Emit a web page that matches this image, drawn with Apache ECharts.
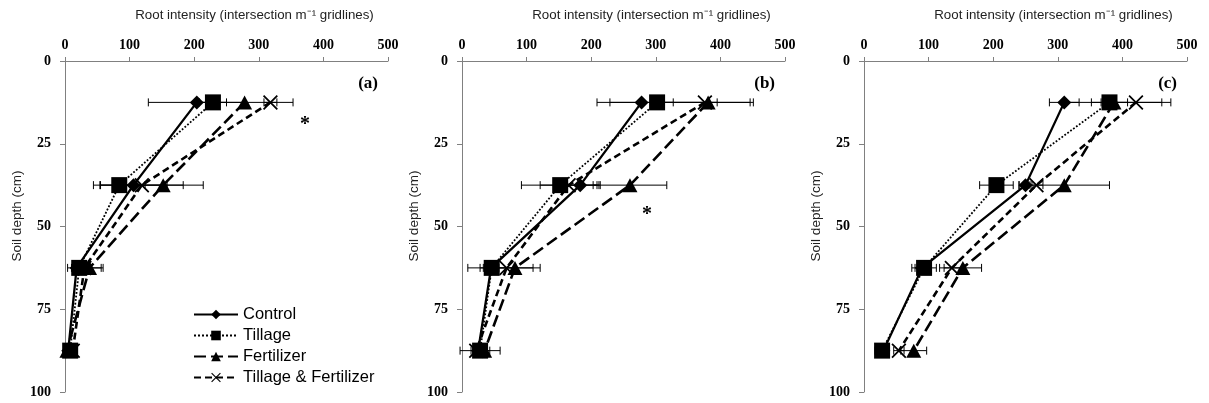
<!DOCTYPE html>
<html>
<head>
<meta charset="utf-8">
<script src="https://cdn.jsdelivr.net/npm/echarts@6/dist/echarts.min.js"></script>
<style>
  html, body { margin: 0; padding: 0; background: #fff; }
  #chart { width: 1209px; height: 403px; }
</style>
</head>
<body>
<div id="chart"></div>
<script>
// soil depths (cm) of the four sampling layers
var depths = [12.5, 37.5, 62.5, 87.5];
var seriesNames = ["Control", "Tillage", "Fertilizer", "Tillage & Fertilizer"];
var panelLabels = ["(a)", "(b)", "(c)"];

// panel (a)
var aControl = [204, 106, 18, 5];
var aTillage = [229, 84, 22, 8];
var aFertilizer = [278, 152, 38, 3];
var aTillFert = [318, 119, 30, 12];
var aControlErr = [75, 52, 8, 4];
var aTillageErr = [21, 40, 8, 4];
var aFertilizerErr = [75, 62, 21, 4];
var aTillFertErr = [10, 64, 26, 4];

// panel (b)
var bControl = [278, 183, 45, 25];
var bTillage = [302, 152, 46, 28];
var bFertilizer = [381, 260, 82, 35];
var bTillFert = [376, 165, 69, 22];
var bControlErr = [49, 31, 12, 8];
var bTillageErr = [93, 60, 37, 31];
var bFertilizerErr = [70, 57, 39, 8];
var bTillFertErr = [70, 44, 41, 8];

// panel (c)
var cControl = [310, 250, 90, 30];
var cTillage = [380, 205, 93, 28];
var cFertilizer = [387, 310, 153, 77];
var cTillFert = [421, 267, 136, 54];
var cControlErr = [23, 10, 11, 8];
var cTillageErr = [28, 26, 19, 11];
var cFertilizerErr = [74, 70, 29, 20];
var cTillFertErr = [54, 10, 19, 8];

var panels = [
  { vals: [aControl, aTillage, aFertilizer, aTillFert], errs: [aControlErr, aTillageErr, aFertilizerErr, aTillFertErr] },
  { vals: [bControl, bTillage, bFertilizer, bTillFert], errs: [bControlErr, bTillageErr, bFertilizerErr, bTillFertErr] },
  { vals: [cControl, cTillage, cFertilizer, cTillFert], errs: [cControlErr, cTillageErr, cFertilizerErr, cTillFertErr] }
];

var gridLefts = [65, 462, 864];
var gridWidth = 323;

var xMark = "path://M0,1L1,0L6,5L11,0L12,1L7,6L12,11L11,12L6,7L1,12L0,11L5,6Z";
var styles = [
  { symbol: "diamond", size: 14, line: { type: "solid", width: 2.3 } },
  { symbol: "rect", size: 16, line: { type: "dotted", width: 1.8 } },
  { symbol: "triangle", size: [15, 14], line: { type: [12, 5], width: 2.6 } },
  { symbol: xMark, size: 15, line: { type: [7, 4], width: 2.6 } }
];

var serif = "'Liberation Serif', 'Times New Roman', serif";
var sans = "'Liberation Sans', Arial, sans-serif";

function renderErr(params, api) {
  var lo = api.coord([api.value(0), api.value(2)]);
  var hi = api.coord([api.value(1), api.value(2)]);
  var h = 4;
  var st = { stroke: "#000", lineWidth: 1 };
  return {
    type: "group",
    children: [
      { type: "line", shape: { x1: lo[0], y1: lo[1], x2: hi[0], y2: hi[1] }, style: st },
      { type: "line", shape: { x1: lo[0], y1: lo[1] - h, x2: lo[0], y2: lo[1] + h }, style: st },
      { type: "line", shape: { x1: hi[0], y1: hi[1] - h, x2: hi[0], y2: hi[1] + h }, style: st }
    ]
  };
}

var grids = [], xAxes = [], yAxes = [], series = [], graphics = [];

panels.forEach(function (p, pi) {
  grids.push({ left: gridLefts[pi], top: 61, width: gridWidth, height: 331 });
  xAxes.push({
    type: "value", gridIndex: pi, position: "top", min: 0, max: 500, interval: 100,
    axisLine: { show: true, lineStyle: { color: "#808080", width: 1 } },
    axisTick: { show: true, length: 4, lineStyle: { color: "#808080" } },
    axisLabel: { margin: 9, color: "#000", fontFamily: serif, fontWeight: "bold", fontSize: 14 },
    splitLine: { show: false }
  });
  yAxes.push({
    type: "value", gridIndex: pi, inverse: true, min: 0, max: 100, interval: 25,
    axisLine: { show: true, lineStyle: { color: "#808080", width: 1 } },
    axisTick: { show: true, length: 5, lineStyle: { color: "#808080" } },
    axisLabel: { margin: 14, color: "#000", fontFamily: serif, fontWeight: "bold", fontSize: 14 },
    splitLine: { show: false }
  });

  p.vals.forEach(function (vals, si) {
    var errs = p.errs[si];
    series.push({
      type: "custom", name: "err" + pi + si, xAxisIndex: pi, yAxisIndex: pi,
      renderItem: renderErr, silent: true, z: 1,
      encode: { x: [0, 1], y: 2 },
      data: depths.map(function (d, i) { return [vals[i] - errs[i], vals[i] + errs[i], d]; })
    });
  });
  p.vals.forEach(function (vals, si) {
    var s = styles[si];
    series.push({
      type: "line", name: seriesNames[si], xAxisIndex: pi, yAxisIndex: pi, z: 3,
      symbol: s.symbol, symbolSize: s.size, showAllSymbol: true,
      lineStyle: { color: "#000", type: s.line.type, width: s.line.width },
      itemStyle: { color: "#000", borderColor: "#000", borderWidth: 0 },
      data: depths.map(function (d, i) { return [vals[i], d]; })
    });
  });

  var cx = gridLefts[pi] + gridWidth / 2 + 28;
  graphics.push({
    type: "text", x: cx, y: 15,
    style: { text: "Root intensity (intersection m\u207B\u00B9 gridlines)", font: "13.3px " + sans, fill: "#222", textAlign: "center", textVerticalAlign: "middle" }
  });
  graphics.push({
    type: "text", x: gridLefts[pi] - 48, y: 216, rotation: Math.PI / 2,
    style: { text: "Soil depth (cm)", font: "13.5px " + sans, fill: "#222", textAlign: "center", textVerticalAlign: "middle" }
  });
  graphics.push({
    type: "text", x: gridLefts[pi] + gridWidth - 10, y: 84,
    style: { text: panelLabels[pi], font: "bold 17px " + serif, fill: "#000", textAlign: "right", textVerticalAlign: "middle" }
  });
});

// significance asterisks
graphics.push({ type: "text", x: 305, y: 125, style: { text: "*", font: "bold 20px " + serif, fill: "#000", textAlign: "center", textVerticalAlign: "middle" } });
graphics.push({ type: "text", x: 647, y: 215, style: { text: "*", font: "bold 20px " + serif, fill: "#000", textAlign: "center", textVerticalAlign: "middle" } });

var chart = echarts.init(document.getElementById("chart"), null, { renderer: "canvas" });
chart.setOption({
  animation: false,
  backgroundColor: "#fff",
  grid: grids,
  xAxis: xAxes,
  yAxis: yAxes,
  legend: {
    data: seriesNames, orient: "vertical", left: 188, top: 300,
    itemWidth: 44, itemHeight: 12, itemGap: 2,
    textStyle: { fontFamily: sans, fontSize: 16.5, lineHeight: 19, color: "#000" }
  },
  graphic: graphics,
  series: series
});
</script>
</body>
</html>
